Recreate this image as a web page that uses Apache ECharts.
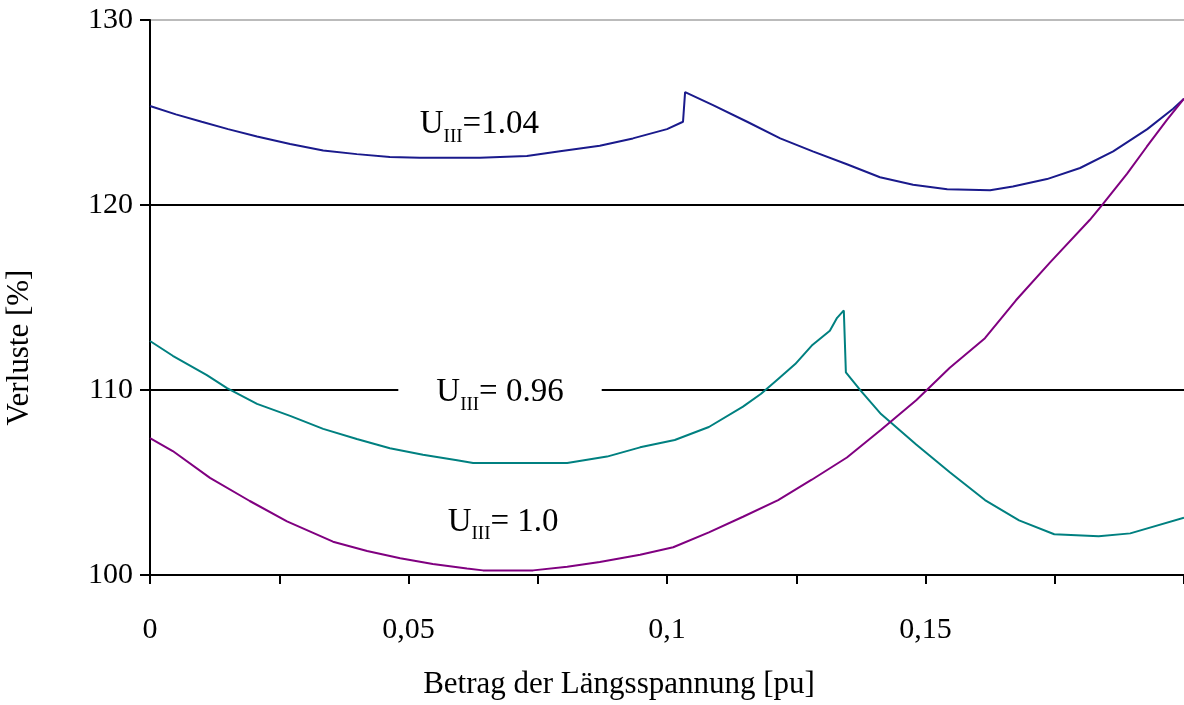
<!DOCTYPE html>
<html>
<head>
<meta charset="utf-8">
<title>Verluste</title>
<script src="https://cdn.jsdelivr.net/npm/echarts@6/dist/echarts.min.js"></script>
<style>
  html, body { margin: 0; padding: 0; background: #fff; }
  #main { width: 1184px; height: 705px; }
</style>
</head>
<body>
<div id="main"></div>
<script>
// U_III = 1.04
var x104 = [0, 0.005, 0.01, 0.0151, 0.0207, 0.0271, 0.0335, 0.04, 0.0464, 0.0522, 0.0638, 0.0729, 0.0793, 0.087, 0.0934, 0.1, 0.1031,
  0.1035, 0.1089, 0.1155, 0.1219, 0.1282, 0.1348, 0.1412, 0.1476, 0.1542, 0.1625, 0.1669, 0.1735, 0.1799, 0.1863, 0.1929, 0.1979, 0.2];
var y104 = [125.35, 124.9, 124.5, 124.1, 123.7, 123.3, 122.95, 122.75, 122.6, 122.55, 122.55, 122.65, 122.9, 123.2, 123.6, 124.1, 124.5,
  126.1, 125.4, 124.5, 123.6, 122.9, 122.2, 121.5, 121.1, 120.85, 120.8, 121.0, 121.4, 122.0, 122.9, 124.1, 125.2, 125.75];

// U_III = 0.96
var x096 = [0, 0.0044, 0.011, 0.0149, 0.0207, 0.0271, 0.0335, 0.04, 0.0464, 0.0528, 0.0594, 0.0625, 0.0807, 0.0884, 0.0948, 0.1015,
  0.1081, 0.1147, 0.1182, 0.1215, 0.1248, 0.128, 0.1315, 0.1329, 0.1342, 0.1346, 0.1375, 0.1414, 0.1482, 0.1547, 0.1615, 0.1681,
  0.1749, 0.1835, 0.1896, 0.2];
var y096 = [112.65, 111.85, 110.8, 110.1, 109.25, 108.6, 107.9, 107.35, 106.85, 106.5, 106.2, 106.05, 106.05, 106.4, 106.9, 107.3,
  108.0, 109.1, 109.8, 110.6, 111.4, 112.4, 113.2, 113.9, 114.3, 110.95, 109.95, 108.7, 107.05, 105.55, 104.05, 102.95,
  102.2, 102.1, 102.25, 103.1];

// U_III = 1.0
var x100 = [0, 0.0044, 0.0116, 0.0193, 0.0265, 0.0354, 0.042, 0.0484, 0.0547, 0.0613, 0.0644, 0.0741, 0.0807, 0.087, 0.0948, 0.1012,
  0.1081, 0.1147, 0.1215, 0.128, 0.1348, 0.1414, 0.1482, 0.1547, 0.1615, 0.1675, 0.1741, 0.1818, 0.1843, 0.189, 0.1928, 0.1967, 0.2];
var y100 = [107.4, 106.7, 105.25, 104.0, 102.9, 101.8, 101.3, 100.9, 100.6, 100.35, 100.25, 100.25, 100.45, 100.7, 101.1, 101.5,
  102.3, 103.15, 104.05, 105.15, 106.35, 107.85, 109.45, 111.2, 112.8, 114.85, 116.9, 119.2, 120.05, 121.7, 123.15, 124.6, 125.75];

var seriesNames = ['1.04', '0.96', '1.0'];
var labelTexts = ['=1.04', '= 0.96', '= 1.0'];
var labelCoords = [[0.0637, 124.35], [0.0677, 109.85], [0.0683, 102.85]];
var colors = ['#1a1a8c', '#008080', '#800080'];

var font = 'Liberation Serif, Times New Roman, serif';

function pairs(xs, ys) {
  return xs.map(function (x, i) {
    return [x, ys[i]];
  });
}

var chart = echarts.init(document.getElementById('main'));

var lines = [pairs(x104, y104), pairs(x096, y096), pairs(x100, y100)];

var series = lines.map(function (d, i) {
  return {
    name: seriesNames[i],
    type: 'line',
    data: d,
    showSymbol: false,
    animation: false,
    lineStyle: { color: colors[i], width: 2 },
    markPoint: {
      symbol: 'circle',
      symbolSize: 0,
      animation: false,
      data: [{ coord: labelCoords[i] }],
      label: {
        show: true,
        position: 'inside',
        formatter: '{u|U}{s|III}{u|' + labelTexts[i] + '}',
        backgroundColor: i === 1 ? '#fff' : 'transparent',
        padding: i === 1 ? [0, 38] : 0,
        rich: {
          u: { fontFamily: font, fontSize: 33, color: '#000', lineHeight: 33, verticalAlign: 'top' },
          s: { fontFamily: font, fontSize: 19, color: '#000', lineHeight: 19, verticalAlign: 'top', padding: [19, 0, 0, 0] }
        }
      }
    }
  };
});

chart.setOption({
  animation: false,
  grid: { left: 150, right: 0, top: 20, bottom: 130, containLabel: false, outerBoundsMode: 'none' },
  xAxis: {
    type: 'value',
    min: 0,
    max: 0.2,
    interval: 0.025,
    name: 'Betrag der Längsspannung [pu]',
    nameLocation: 'middle',
    nameGap: 94,
    nameTextStyle: { fontFamily: font, fontSize: 31, color: '#000', padding: [0, 96, 0, 0] },
    axisLine: { lineStyle: { color: '#000', width: 2 } },
    axisTick: { length: 9, lineStyle: { color: '#000', width: 2 } },
    axisLabel: {
      margin: 40,
      fontFamily: font,
      fontSize: 30,
      color: '#000',
      formatter: function (v) {
        var k = Math.round(v * 1000);
        if (k % 50 !== 0 || k === 200) return '';
        return String(k / 1000).replace('.', ',');
      }
    },
    splitLine: { show: false }
  },
  yAxis: {
    type: 'value',
    min: 100,
    max: 130,
    interval: 10,
    name: 'Verluste [%]',
    nameLocation: 'middle',
    nameGap: 115,
    nameTextStyle: { fontFamily: font, fontSize: 31, color: '#000', padding: [0, 100, 0, 0] },
    axisLine: { show: true, lineStyle: { color: '#000', width: 2 } },
    axisTick: { show: true, length: 10, lineStyle: { color: '#000', width: 2 } },
    axisLabel: { margin: 17, fontFamily: font, fontSize: 30, color: '#000' },
    splitLine: { show: true, lineStyle: { color: ['#000', '#000', '#000', '#bbb'], width: 2 } }
  },
  series: series
});
</script>
</body>
</html>
